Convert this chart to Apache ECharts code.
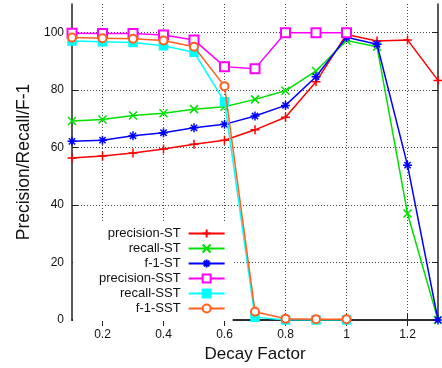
<!DOCTYPE html>
<html><head><meta charset="utf-8">
<script src="https://cdn.jsdelivr.net/npm/echarts@6/dist/echarts.min.js"></script>
<style>html,body{margin:0;padding:0;background:#fff}#c{width:442px;height:368px}</style>
</head><body><div id="c"></div>
<script>
var xValues = [0.1,0.2,0.3,0.4,0.5,0.6,0.7,0.8,0.9,1.0,1.1,1.2,1.3];
var xTicks = [0.2,0.4,0.6,0.8,1.0,1.2];
var yTicks = [0,20,40,60,80,100];
var precisionST = [56.4,57.1,58.1,59.5,61.2,62.6,66.2,70.6,82.9,99.4,97.1,97.5,83.4];
var recallST = [69.3,69.8,71.2,72.0,73.4,74.2,76.8,79.8,86.7,97.3,95.1,37.1,0];
var f1ST = [62.2,62.6,64.1,65.2,66.9,68.1,71.0,74.7,84.7,98.4,96.0,53.9,0];
var precisionSST = [99.8,99.7,99.7,99.2,97.5,88.2,87.5,100,100,100];
var recallSST = [97.1,96.9,96.6,95.5,93.2,76.0,1.0,0,0,0];
var f1SST = [98.3,98.1,97.9,97.3,95.1,81.4,2.9,0.4,0.3,0.3];
var names = ['precision-ST','recall-ST','f-1-ST','precision-SST','recall-SST','f-1-SST'];
var colors = ['#ff0000','#00e000','#0000ff','#ff00ff','#00ffff','#ff5f1f'];

function pairs(vals){ return vals.map(function(v,i){ return [xValues[i], v]; }); }
var plusP = 'path://M0,5L10,5M5,0L5,10';
var crossP = 'path://M0,0L10,10M10,0L0,10';
var starP = 'path://M0,5L10,5M5,0L5,10M1.5,1.5L8.5,8.5M8.5,1.5L1.5,8.5';
var datas = [precisionST, recallST, f1ST, precisionSST, recallSST, f1SST];
var symbols = [plusP, crossP, starP, 'emptyRect', 'rect', 'emptyCircle'];
var sizes = [9, 8, 9, 9, 8, 8];

var series = datas.map(function(d, i){
  return {
    name: names[i], type: 'line', data: pairs(d),
    symbol: symbols[i], symbolSize: sizes[i], showAllSymbol: true,
    lineStyle: {color: colors[i], width: 1.5},
    itemStyle: {color: colors[i], borderColor: colors[i], borderWidth: 1.5},
    z: 2 + i, animation: false
  };
});

var font = 'Liberation Sans, Arial, sans-serif';
var axisLineStyle = {lineStyle: {color: '#222', width: 1.5}};
var chart = echarts.init(document.getElementById('c'), null, {renderer: 'canvas'});
chart.setOption({
  animation: false,
  textStyle: {fontFamily: font},
  grid: {left: 72, right: 4, top: 4, bottom: 48},
  legend: {
    orient: 'vertical', left: 73, top: 223, align: 'right',
    itemWidth: 36, itemHeight: 10, itemGap: 2,
    padding: [4, 7, 6, 26], backgroundColor: '#fff',
    textStyle: {fontSize: 13, color: '#111', fontFamily: font, padding: [0, 3, 0, 0]},
    data: names
  },
  xAxis: [{
    type: 'value', min: 0.1, max: 1.3,
    name: 'Decay Factor', nameLocation: 'middle', nameGap: 26,
    nameTextStyle: {fontSize: 17, color: '#111', fontFamily: font},
    axisLine: axisLineStyle,
    axisTick: {inside: true, length: 6, customValues: xTicks, lineStyle: {color: '#222'}},
    axisLabel: {customValues: xTicks, fontSize: 12, color: '#111', margin: 9},
    splitLine: {show: true, customValues: xTicks, lineStyle: {color: '#444', type: [1, 2], width: 1}}
  },{
    type: 'value', min: 0.1, max: 1.3, position: 'top',
    axisLine: axisLineStyle,
    axisTick: {inside: true, length: 6, customValues: xTicks, lineStyle: {color: '#222'}},
    axisLabel: {show: false, customValues: xTicks},
    splitLine: {show: false}
  }],
  yAxis: [{
    type: 'value', min: 0, max: 110, interval: 20,
    name: 'Precision/Recall/F-1', nameLocation: 'middle', nameGap: 39,
    nameTextStyle: {fontSize: 17.5, color: '#111', fontFamily: font},
    axisLine: {show: true, lineStyle: {color: '#222', width: 1.5}},
    axisTick: {show: true, inside: true, length: 6, customValues: yTicks, lineStyle: {color: '#222'}},
    axisLabel: {customValues: yTicks, fontSize: 12, color: '#111', margin: 8},
    splitLine: {show: true, customValues: yTicks, lineStyle: {color: '#444', type: [1, 2], width: 1}}
  },{
    type: 'value', min: 0, max: 110, interval: 20, position: 'right',
    axisLine: {show: true, lineStyle: {color: '#222', width: 1.5}},
    axisTick: {show: true, inside: true, length: 6, customValues: yTicks, lineStyle: {color: '#222'}},
    axisLabel: {show: false},
    splitLine: {show: false}
  }],
  series: series
});
</script></body></html>
